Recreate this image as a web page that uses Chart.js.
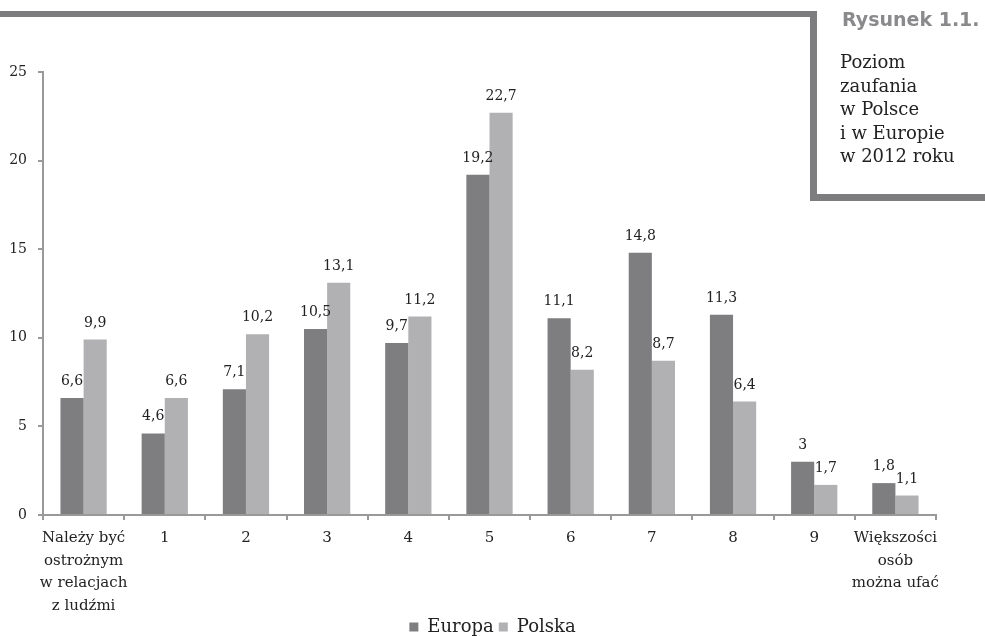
<!DOCTYPE html>
<html>
<head>
<meta charset="utf-8">
<script src="https://cdn.jsdelivr.net/npm/chart.js@4"></script>
<style>
  html, body { margin: 0; padding: 0; background: #fff; }
  #wrap { position: relative; width: 985px; height: 636px; overflow: hidden; }
  #c { position: absolute; left: 0; top: 0; }
  .bar { position: absolute; background: #7d7d7f; }
  #fig { position: absolute; left: 842px; top: 8px; font: bold 19px "DejaVu Sans", sans-serif; color: #8a8a8c; white-space: nowrap; }
  #desc { position: absolute; left: 840px; top: 50px; font: 18px/23.5px "DejaVu Serif", serif; color: #222; white-space: nowrap; }
</style>
</head>
<body>
<div id="wrap">
  <canvas id="c" width="985" height="636"></canvas>
  <div class="bar" style="left:0;top:11px;width:817px;height:6px;"></div>
  <div class="bar" style="left:810px;top:11px;width:7px;height:190px;"></div>
  <div class="bar" style="left:810px;top:194px;width:175px;height:7px;"></div>
  <div id="fig">Rysunek 1.1.</div>
  <div id="desc">Poziom<br>zaufania<br>w Polsce<br>i w Europie<br>w 2012 roku</div>
</div>
<script>
const categories = [
  ["Należy być", "ostrożnym", "w relacjach", "z ludźmi"],
  "1", "2", "3", "4", "5", "6", "7", "8", "9",
  ["Większości", "osób", "można ufać"]
];
const europa = [6.6, 4.6, 7.1, 10.5, 9.7, 19.2, 11.1, 14.8, 11.3, 3, 1.8];
const polska = [9.9, 6.6, 10.2, 13.1, 11.2, 22.7, 8.2, 8.7, 6.4, 1.7, 1.1];
const yTicks = [0, 5, 10, 15, 20, 25];
const seriesNames = ["Europa", "Polska"];

const fmt = v => String(v).replace('.', ',');

const valueLabels = {
  id: 'valueLabels',
  afterDatasetsDraw(chart) {
    const ctx = chart.ctx;
    ctx.save();
    ctx.font = '14px "DejaVu Serif", serif';
    ctx.fillStyle = '#222';
    ctx.textAlign = 'center';
    ctx.textBaseline = 'alphabetic';
    chart.data.datasets.forEach((ds, i) => {
      chart.getDatasetMeta(i).data.forEach((el, j) => {
        ctx.fillText(fmt(ds.data[j]), el.x, el.y - 13);
      });
    });
    ctx.restore();
  }
};

new Chart(document.getElementById('c'), {
  type: 'bar',
  data: {
    labels: categories,
    datasets: [
      { label: seriesNames[0], data: europa, backgroundColor: '#7e7e80', categoryPercentage: 0.57, barPercentage: 1.0 },
      { label: seriesNames[1], data: polska, backgroundColor: '#b1b1b3', categoryPercentage: 0.57, barPercentage: 1.0 }
    ]
  },
  options: {
    responsive: false,
    devicePixelRatio: 1,
    animation: false,
    layout: { padding: { top: 72, right: 0, left: 0, bottom: -10 } },
    plugins: {
      legend: {
        position: 'bottom',
        labels: {
          font: { family: '"DejaVu Serif", serif', size: 18, lineHeight: 1.0 },
          color: '#222',
          boxWidth: 9,
          boxHeight: 9,
          padding: 5
        }
      },
      tooltip: { enabled: false }
    },
    scales: {
      x: {
        grid: { display: true, drawOnChartArea: false, drawTicks: true, tickLength: 5, color: '#999', lineWidth: 2, offset: true },
        border: { display: true, color: '#999', width: 2 },
        ticks: { font: { family: '"DejaVu Serif", serif', size: 15, lineHeight: 1.5 }, color: '#222', padding: 7, maxRotation: 0, autoSkip: false },
        afterFit: s => { s.height = 98; }
      },
      y: {
        min: 0, max: 25,
        afterBuildTicks: s => { s.ticks = yTicks.map(v => ({ value: v })); },
        grid: { display: true, drawOnChartArea: false, drawTicks: true, tickLength: 5, color: '#999', lineWidth: 2 },
        border: { display: true, color: '#999', width: 2 },
        ticks: { font: { family: '"DejaVu Serif", serif', size: 14 }, color: '#222', padding: 11 },
        afterFit: s => { s.width = 43; }
      },
      yPad: {
        position: 'right',
        display: true,
        grid: { display: false },
        border: { display: false },
        ticks: { display: false },
        afterFit: s => { s.width = 49; }
      }
    }
  },
  plugins: [valueLabels]
});
</script>
</body>
</html>
